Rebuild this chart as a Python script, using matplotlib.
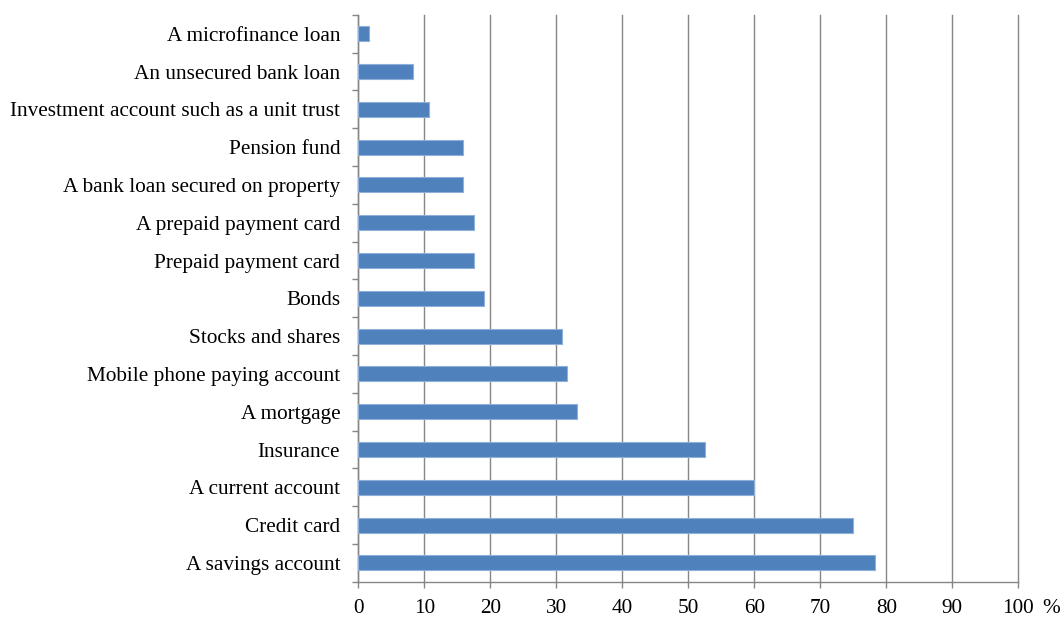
import matplotlib
matplotlib.use("Agg")
import matplotlib.pyplot as plt

categories = [
    "A savings account",
    "Credit card",
    "A current account",
    "Insurance",
    "A mortgage",
    "Mobile phone paying account",
    "Stocks and shares",
    "Bonds",
    "Prepaid payment card",
    "A prepaid payment card",
    "A bank loan secured on property",
    "Pension fund",
    "Investment account such as a unit trust",
    "An unsecured bank loan",
    "A microfinance loan",
]
values = [78.3, 75.0, 60.0, 52.5, 33.2, 31.7, 30.8, 19.1, 17.5, 17.5, 15.8, 15.8, 10.7, 8.3, 1.7]
x_ticks = [0, 10, 20, 30, 40, 50, 60, 70, 80, 90, 100]
x_tick_labels = ["0", "10", "20", "30", "40", "50", "60", "70", "80", "90", "100"]

plt.rcParams["font.family"] = ["Liberation Serif", "DejaVu Serif"]
FS = 15.3

fig = plt.figure(figsize=(10.63, 6.17), dpi=100)
ax = fig.add_axes([0.337, 0.057, 0.621, 0.919])

ypos = list(range(len(categories)))
ax.barh(ypos, values, height=0.4, color="#4F81BD", edgecolor="#8EB0DA",
        linewidth=0.8, zorder=3)

ax.set_xlim(0, 100)
ax.set_ylim(-0.5, len(categories) - 0.5)
ax.set_xticks(x_ticks)
ax.set_xticklabels(x_tick_labels, fontsize=FS)
ax.set_yticks(ypos)
ax.set_yticklabels(categories, fontsize=FS)

# category boundary ticks on the y axis, labels centred between them
ax.set_yticks([i - 0.5 for i in range(len(categories) + 1)], minor=True)
ax.tick_params(axis="y", which="major", length=0, pad=13)
ax.tick_params(axis="y", which="minor", length=4.5, color="#868686", width=1)
ax.tick_params(axis="x", which="major", length=4.5, color="#868686", width=1, pad=8)

ax.grid(axis="x", color="#868686", linewidth=1, zorder=0)
for gl in ax.get_xgridlines():
    gl.set_clip_on(False)
for side in ["top", "right"]:
    ax.spines[side].set_visible(False)
for side in ["left", "bottom"]:
    ax.spines[side].set_color("#868686")
    ax.spines[side].set_linewidth(1)

# unit sign after the last tick value
ax.annotate("%", xy=(100, 0), xycoords=("data", "axes fraction"),
            xytext=(17, -12.5), textcoords="offset points",
            ha="left", va="top", fontsize=FS, annotation_clip=False)

fig.savefig("out.png", dpi=100, facecolor="white")
